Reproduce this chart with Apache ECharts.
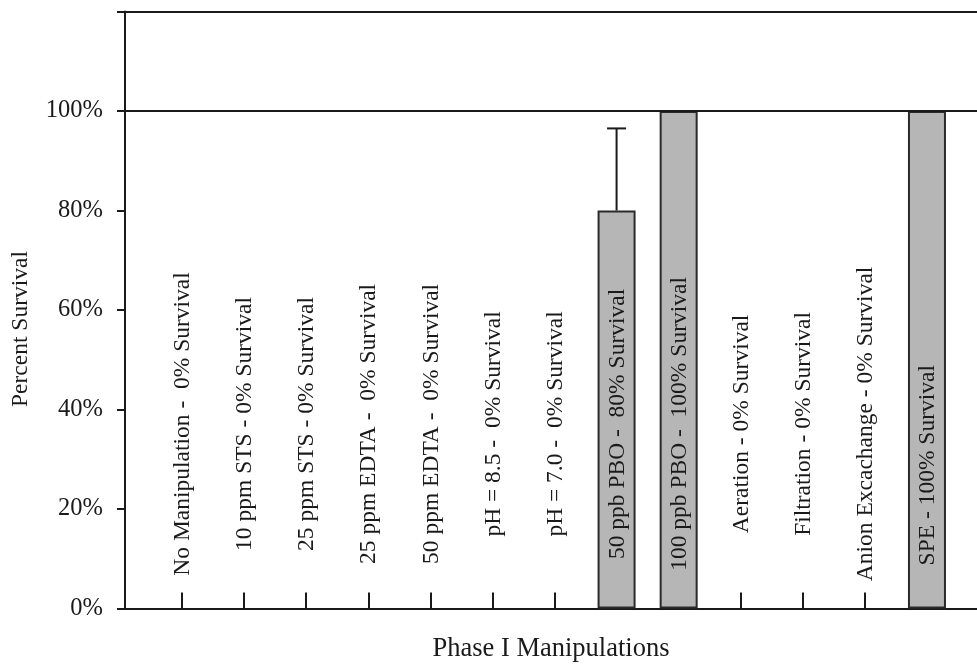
<!DOCTYPE html>
<html>
<head>
<meta charset="utf-8">
<script src="https://cdn.jsdelivr.net/npm/echarts@6/dist/echarts.min.js"></script>
<style>
  html, body { margin: 0; padding: 0; background: #ffffff; }
  #chart { width: 977px; height: 664px; }
</style>
</head>
<body>
<div id="chart"></div>
<script>
// Phase I manipulations and their survival fractions
const categories = [
  'No Manipulation', '10 ppm STS', '25 ppm STS', '25 ppm EDTA', '50 ppm EDTA',
  'pH = 8.5', 'pH = 7.0', '50 ppb PBO', '100 ppb PBO', 'Aeration',
  'Filtration', 'Anion Excachange', 'SPE'
];
const survival = [0, 0, 0, 0, 0, 0, 0, 0.80, 1.00, 0, 0, 0, 1.00];
const errorPlus = [0, 0, 0, 0, 0, 0, 0, 0.165, 0, 0, 0, 0, 0];
const barLabels = [
  'No Manipulation -  0% Survival',
  '10 ppm STS - 0% Survival',
  '25 ppm STS - 0% Survival',
  '25 ppm EDTA -  0% Survival',
  '50 ppm EDTA -  0% Survival',
  'pH = 8.5 -  0% Survival',
  'pH = 7.0 -  0% Survival',
  '50 ppb PBO -  80% Survival',
  '100 ppb PBO -  100% Survival',
  'Aeration - 0% Survival',
  'Filtration - 0% Survival',
  'Anion Excachange - 0% Survival',
  'SPE - 100% Survival'
];
const yMax = 1.2;
const yStep = 0.2;

const FONT = '"Liberation Serif", "Times New Roman", serif';
const INK = '#1a1a1a';

// where the rotated caption is centred along the value axis
function captionCentre(i) {
  return categories[i] === 'SPE' ? 0.288 : 0.371;
}

const chart = echarts.init(document.getElementById('chart'), null, { renderer: 'canvas' });

const frame = { left: 125, right: 0, top: 11.5, bottom: 55.5, outerBoundsMode: 'none', containLabel: false };
const plot = { left: 151, width: 807, top: 11.5, bottom: 55.5, outerBoundsMode: 'none', containLabel: false };

chart.setOption({
  backgroundColor: '#ffffff',
  animation: false,
  grid: [frame, plot],
  xAxis: [
    {
      type: 'value', gridIndex: 0, min: 0, max: 1,
      axisLine: { show: true, lineStyle: { color: INK, width: 2 } },
      axisTick: { show: false }, axisLabel: { show: false }, splitLine: { show: false },
      name: 'Phase I Manipulations', nameLocation: 'middle', nameGap: 27,
      nameTextStyle: { fontFamily: FONT, fontSize: 26.5, color: INK }
    },
    {
      type: 'value', gridIndex: 0, min: 0, max: 1, position: 'top',
      axisLine: { show: true, lineStyle: { color: INK, width: 2 } },
      axisTick: { show: false }, axisLabel: { show: false }, splitLine: { show: false }
    },
    {
      type: 'category', gridIndex: 1, data: categories,
      axisLine: { show: false },
      axisTick: { show: true, inside: true, length: 16, alignWithLabel: true, interval: 0,
                  lineStyle: { color: INK, width: 2 } },
      axisLabel: { show: false, interval: 0 }, splitLine: { show: false }
    }
  ],
  yAxis: [
    {
      type: 'value', gridIndex: 0, min: 0, max: yMax, interval: yStep,
      axisLine: { show: true, lineStyle: { color: INK, width: 2 } },
      axisTick: { show: true, length: 8, lineStyle: { color: INK, width: 2 } },
      axisLabel: {
        margin: 22, fontFamily: FONT, fontSize: 24.5, color: INK,
        formatter: v => (v > 1.0001 ? '' : Math.round(v * 100) + '%')
      },
      splitLine: { show: false },
      name: 'Percent Survival', nameLocation: 'middle', nameGap: 92,
      nameTextStyle: { fontFamily: FONT, fontSize: 23.5, color: INK, padding: [0, 38, 0, 0] }
    },
    {
      type: 'value', gridIndex: 1, min: 0, max: yMax, show: false
    }
  ],
  series: [
    {
      // reference line at full survival
      type: 'line', xAxisIndex: 0, yAxisIndex: 0, data: [],
      markLine: {
        silent: true, symbol: 'none', label: { show: false },
        lineStyle: { color: INK, width: 2, type: 'solid' },
        data: [{ yAxis: 1 }]
      }
    },
    {
      type: 'bar', xAxisIndex: 2, yAxisIndex: 1,
      // zero-survival treatments carry no visible bar outline
      data: survival.map(v => (v > 0 ? v : { value: v, itemStyle: { borderWidth: 0, opacity: 0 } })),
      barWidth: 38,
      itemStyle: { color: '#b6b6b6', borderColor: '#2a2a2a', borderWidth: 2 }
    },
    {
      // upper error bar
      type: 'custom', xAxisIndex: 2, yAxisIndex: 1, z: 5,
      data: survival.map((v, i) => [i, v, errorPlus[i]]),
      renderItem(params, api) {
        const err = api.value(2);
        if (!err) return null;
        const base = api.coord([api.value(0), api.value(1)]);
        const top = api.coord([api.value(0), api.value(1) + err]);
        const half = 9.5;
        const style = { stroke: INK, lineWidth: 2 };
        return {
          type: 'group',
          children: [
            { type: 'line', shape: { x1: base[0], y1: base[1], x2: top[0], y2: top[1] }, style },
            { type: 'line', shape: { x1: top[0] - half, y1: top[1], x2: top[0] + half, y2: top[1] }, style }
          ]
        };
      }
    },
    {
      // rotated captions for every manipulation
      type: 'custom', xAxisIndex: 2, yAxisIndex: 1, z: 10,
      data: barLabels.map((t, i) => [i, captionCentre(i)]),
      renderItem(params, api) {
        const i = api.value(0);
        const p = api.coord([i, api.value(1)]);
        return {
          type: 'text',
          x: p[0] + 1, y: p[1],
          rotation: Math.PI / 2,
          style: {
            text: barLabels[i],
            fontFamily: FONT, fontSize: 23.5, fill: INK,
            align: 'center', verticalAlign: 'middle'
          }
        };
      }
    }
  ]
});
</script>
</body>
</html>
